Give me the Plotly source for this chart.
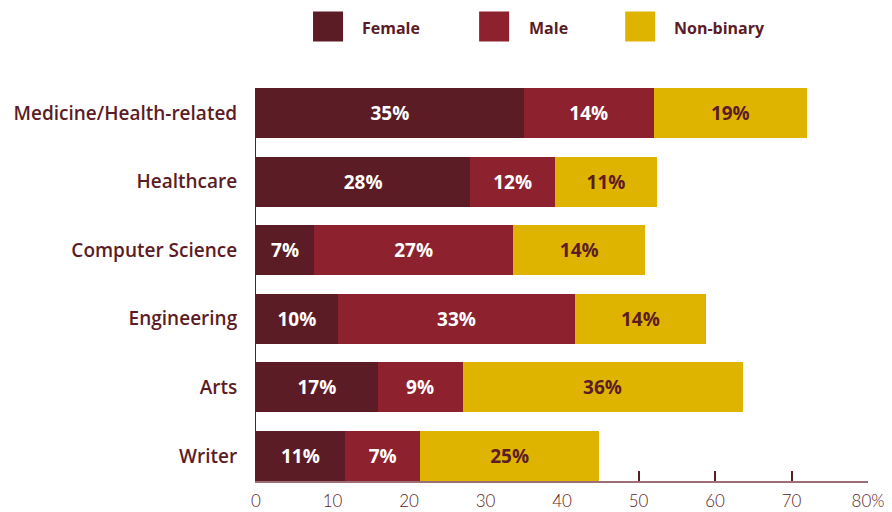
import plotly.graph_objects as go

categories = ["Medicine/Health-related", "Healthcare", "Computer Science",
              "Engineering", "Arts", "Writer"]
series_names = ["Female", "Male", "Non-binary"]

female_vals = [35.0, 28.0, 7.6, 10.7, 15.9, 11.6]
male_vals = [17.0, 11.1, 26.0, 31.0, 11.1, 9.9]
nonbinary_vals = [20.0, 13.3, 17.3, 17.1, 36.6, 23.3]

female_labels = ["35%", "28%", "7%", "10%", "17%", "11%"]
male_labels = ["14%", "12%", "27%", "33%", "9%", "7%"]
nonbinary_labels = ["19%", "11%", "14%", "14%", "36%", "25%"]

tick_vals = [0, 10, 20, 30, 40, 50, 60, 70, 80]
tick_text = ["0", "10", "20", "30", "40", "50", "60", "70", "80%"]

COL_F = "#5C1C25"
COL_M = "#8E212E"
COL_NB = "#DFB400"
TXT = "#5C1C25"
FONT = "Open Sans"

# page is rendered with an 8px body margin, so layout targets are shifted by OFF
OFF = 8
W, H = 892, 512
L = 256 - OFF
T = 88 - OFF
R = W - (867.7 - OFF)
B = H - (481 - OFF)
PW, PH = W - L - R, H - T - B


def px_x(px):
    return (px - OFF - L) / PW


def px_y(py):
    return (H - B - (py - OFF)) / PH


fig = go.Figure()
for vals, labels, name, col, tcol in [
    (female_vals, female_labels, series_names[0], COL_F, "white"),
    (male_vals, male_labels, series_names[1], COL_M, "white"),
    (nonbinary_vals, nonbinary_labels, series_names[2], COL_NB, TXT),
]:
    fig.add_trace(go.Bar(
        y=categories, x=vals, orientation="h", name=name,
        marker=dict(color=col, line=dict(width=0)),
        text=labels, textposition="inside", insidetextanchor="middle",
        textangle=0, constraintext="none",
        textfont=dict(color=tcol, size=19, family=FONT, weight="bold"),
        width=0.729, hoverinfo="skip", showlegend=False,
    ))

# custom legend (large square swatches)
legend_pos = [(313, 360), (479, 527), (625, 672)]
legend_cols = [COL_F, COL_M, COL_NB]
shapes = []
annotations = []
for (sx, tx), col, name in zip(legend_pos, legend_cols, series_names):
    shapes.append(dict(type="rect", xref="paper", yref="paper",
                       x0=px_x(sx), x1=px_x(sx + 30), y0=px_y(41.5), y1=px_y(11.5),
                       fillcolor=col, line=dict(width=0)))
    annotations.append(dict(xref="paper", yref="paper", x=px_x(tx), y=px_y(28),
                            xanchor="left", yanchor="middle", showarrow=False,
                            text=name, font=dict(family=FONT, size=16, color=TXT, weight="bold")))

fig.update_layout(
    width=W, height=H,
    margin=dict(l=L, r=R, t=T, b=B, autoexpand=False),
    barmode="stack",
    plot_bgcolor="white", paper_bgcolor="white",
    shapes=shapes, annotations=annotations,
    xaxis=dict(range=[0, 80], tickvals=tick_vals, ticktext=tick_text,
               ticks="inside", ticklen=10, tickwidth=2, tickcolor=TXT,
               showline=True, linecolor="#9C6F77", linewidth=2,
               showgrid=False, zeroline=False, layer="below traces",
               tickfont=dict(family="Lato", size=17, color=TXT, weight=300),
               ticklabelstandoff=4, fixedrange=True),
    yaxis=dict(type="category", categoryorder="array", categoryarray=categories[::-1],
               range=[-0.364, 5.364], showline=True, linecolor=TXT, linewidth=1,
               showgrid=False, zeroline=False, ticks="", layer="below traces",
               tickfont=dict(family=FONT, size=19, color=TXT, weight=600),
               ticklabelstandoff=14, fixedrange=True),
)

fig.write_html("out.html")
